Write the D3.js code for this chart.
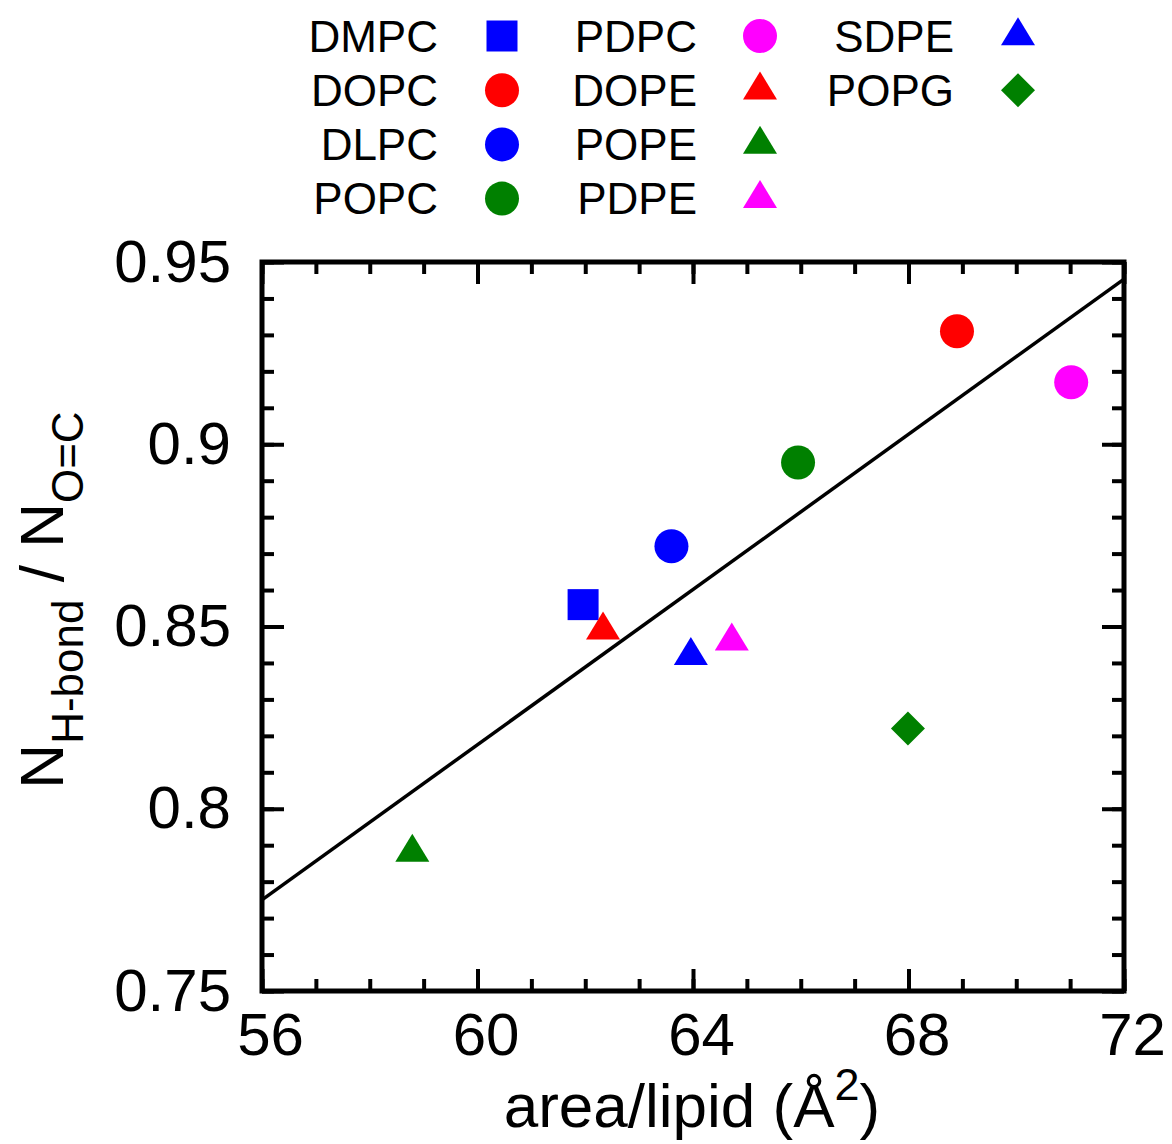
<!DOCTYPE html>
<html>
<head>
<meta charset="utf-8">
<script src="https://cdn.jsdelivr.net/npm/d3@7"></script>
<style>
  body { margin: 0; background: #fff; }
  svg text { font-family: "Liberation Sans", Arial, sans-serif; fill: #000; }
</style>
</head>
<body>
<script>
// lipid data
const lipids = ['DMPC', 'DOPC', 'DLPC', 'POPC', 'PDPC', 'DOPE', 'POPE', 'PDPE', 'SDPE', 'POPG']
const areaPerLipid = [61.96, 68.90, 63.60, 65.95, 71.02, 62.33, 58.79, 64.72, 63.96, 67.99]
const hbondRatio = [0.856, 0.931, 0.872, 0.895, 0.917, 0.849, 0.788, 0.846, 0.842, 0.822]
const colors = ['#0000ff', '#ff0000', '#0000ff', '#008000', '#ff00ff', '#ff0000', '#008000', '#ff00ff', '#0000ff', '#008000']
const shapes = ['square', 'circle', 'circle', 'circle', 'circle', 'triangle', 'triangle', 'triangle', 'triangle', 'diamond']

// linear fit endpoints
const fitX = [56, 72]
const fitY = [0.775, 0.9453]

const xMajor = [56, 60, 64, 68, 72]
const yMajor = [0.75, 0.8, 0.85, 0.9, 0.95]
const yTickLabels = ['0.75', '0.8', '0.85', '0.9', '0.95']

let width = 1172, height = 1144
let plot = { left: 262, right: 1124, top: 262, bottom: 991 }

let svg = d3.select('body').append('svg')
  .attr('width', width)
  .attr('height', height)

let x = d3.scaleLinear()
  .domain([56, 72])
  .range([plot.left, plot.right])

let y = d3.scaleLinear()
  .domain([0.75, 0.95])
  .range([plot.bottom, plot.top])

// marker shapes as d3 symbol types
let symbolTypes = {
  square: { draw(c) { c.rect(-15.5, -15.5, 31, 31) } },
  circle: { draw(c) { c.moveTo(17, 0); c.arc(0, 0, 17, 0, 2 * Math.PI) } },
  triangle: { draw(c) { c.moveTo(0, -18.7); c.lineTo(17, 9.3); c.lineTo(-17, 9.3); c.closePath() } },
  diamond: { draw(c) { c.moveTo(0, -17); c.lineTo(17, 0); c.lineTo(0, 17); c.lineTo(-17, 0); c.closePath() } }
}
let symbol = d3.symbol()

function styleAxis(g, size) {
  g.select('.domain').remove()
  g.selectAll('.tick line').attr('stroke', '#000').attr('stroke-width', 4)
  g.selectAll('.tick text').attr('font-size', size).attr('font-family', null)
}

// minor ticks on all four sides
let sides = [
  [d3.axisBottom(x), `translate(0,${plot.bottom})`, x.ticks(16)],
  [d3.axisTop(x), `translate(0,${plot.top})`, x.ticks(16)],
  [d3.axisLeft(y), `translate(${plot.left},0)`, y.ticks(20)],
  [d3.axisRight(y), `translate(${plot.right},0)`, y.ticks(20)]
]
sides.forEach(([axis, tr, vals]) => {
  svg.append('g').attr('transform', tr)
    .call(axis.tickValues(vals).tickSize(-12).tickFormat(''))
    .call(styleAxis, 0)
})

// major ticks
svg.append('g').attr('transform', `translate(0,${plot.bottom})`)
  .call(d3.axisBottom(x).tickValues(xMajor).tickSize(-22).tickPadding(21).tickFormat(d3.format('d')))
  .call(styleAxis, 60)
  .selectAll('.tick text').attr('dx', 8)

svg.append('g').attr('transform', `translate(0,${plot.top})`)
  .call(d3.axisTop(x).tickValues(xMajor).tickSize(-22).tickFormat(''))
  .call(styleAxis, 0)

svg.append('g').attr('transform', `translate(${plot.left},0)`)
  .call(d3.axisLeft(y).tickValues(yMajor).tickSize(-22).tickPadding(31).tickFormat((d, i) => yTickLabels[i]))
  .call(styleAxis, 60)

svg.append('g').attr('transform', `translate(${plot.right},0)`)
  .call(d3.axisRight(y).tickValues(yMajor).tickSize(-22).tickFormat(''))
  .call(styleAxis, 0)

// frame
svg.append('rect')
  .attr('x', plot.left)
  .attr('y', plot.top)
  .attr('width', plot.right - plot.left)
  .attr('height', plot.bottom - plot.top)
  .attr('fill', 'none')
  .attr('stroke', '#000')
  .attr('stroke-width', 5)

// fit line
svg.append('path')
  .datum(d3.zip(fitX, fitY))
  .attr('d', d3.line().x((d) => x(d[0])).y((d) => y(d[1])))
  .attr('fill', 'none')
  .attr('stroke', '#000')
  .attr('stroke-width', 3.5)

// points
svg.append('g')
  .selectAll('path')
  .data(lipids)
  .enter().append('path')
    .attr('transform', (d, i) => 'translate(' + [x(areaPerLipid[i]), y(hbondRatio[i])] + ')')
    .attr('d', (d, i) => symbol.type(symbolTypes[shapes[i]])())
    .attr('fill', (d, i) => colors[i])

// legend: 3 columns of 4 rows
let legendTextX = [438, 697, 954]
let legendMarkX = [502, 760, 1018]
let legendRowY = (r) => 36 + 54.2 * r

let legend = svg.append('g')
  .selectAll('g')
  .data(lipids)
  .enter().append('g')
    .attr('transform', (d, i) => 'translate(0,' + legendRowY(i % 4) + ')')

legend.append('text')
  .attr('x', (d, i) => legendTextX[Math.floor(i / 4)])
  .attr('dy', '0.36em')
  .attr('text-anchor', 'end')
  .attr('font-size', 44)
  .text((d) => d)

legend.append('path')
  .attr('transform', (d, i) => 'translate(' + legendMarkX[Math.floor(i / 4)] + ',0)')
  .attr('d', (d, i) => symbol.type(symbolTypes[shapes[i]])())
  .attr('fill', (d, i) => colors[i])

// x label
let xl = svg.append('text')
  .attr('x', 692)
  .attr('y', 1127)
  .attr('text-anchor', 'middle')
  .attr('font-size', 62)
xl.append('tspan').text('area/lipid (Å')
xl.append('tspan').attr('font-size', 45).attr('dy', -27).text('2')
xl.append('tspan').attr('dy', 27).text(')')

// y label
let yl = svg.append('text')
  .attr('transform', 'translate(63,600) rotate(-90)')
  .attr('text-anchor', 'middle')
  .attr('font-size', 62)
yl.append('tspan').text('N')
yl.append('tspan').attr('font-size', 44).attr('dy', 20).text('H-bond')
yl.append('tspan').attr('dy', -20).text(' / N')
yl.append('tspan').attr('font-size', 44).attr('dy', 20).text('O=C')
</script>
</body>
</html>
